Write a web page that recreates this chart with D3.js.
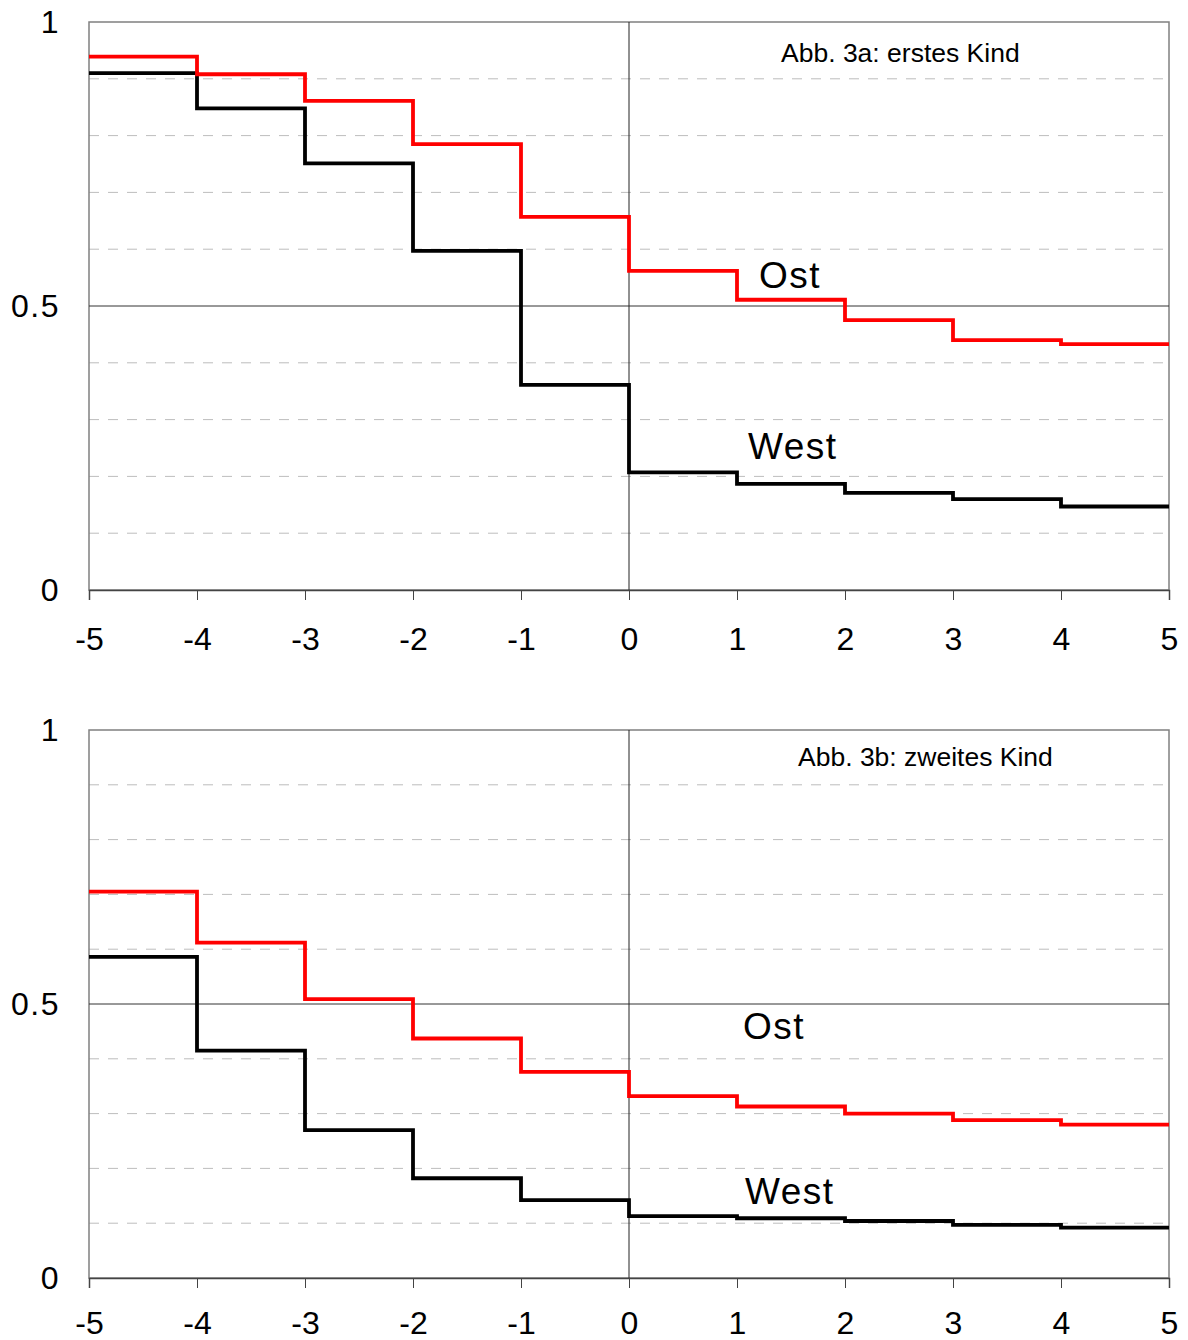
<!DOCTYPE html>
<html>
<head>
<meta charset="utf-8">
<script src="https://cdn.jsdelivr.net/npm/d3@7"></script>
<style>
  html, body { margin: 0; padding: 0; background: #fff; }
  svg { display: block; font-family: "Liberation Sans", Arial, sans-serif; }
</style>
</head>
<body>
<svg id="chart" width="1188" height="1340"></svg>
<script>
// ---- data ----
const xSteps = [-5, -4, -3, -2, -1, 0, 1, 2, 3, 4];
const xTicks = [-5, -4, -3, -2, -1, 0, 1, 2, 3, 4, 5];
const yTicks = [0, 0.5, 1];
const gridValues = [0.1, 0.2, 0.3, 0.4, 0.6, 0.7, 0.8, 0.9];

const ostFirst  = [0.939, 0.908, 0.861, 0.785, 0.657, 0.562, 0.511, 0.475, 0.440, 0.433];
const westFirst = [0.910, 0.848, 0.751, 0.597, 0.361, 0.207, 0.187, 0.171, 0.160, 0.147];
const ostSecond  = [0.705, 0.612, 0.509, 0.437, 0.376, 0.332, 0.313, 0.300, 0.288, 0.280];
const westSecond = [0.586, 0.415, 0.270, 0.182, 0.142, 0.113, 0.109, 0.104, 0.097, 0.092];

const panelTitles = ["Abb. 3a: erstes Kind", "Abb. 3b: zweites Kind"];
const seriesNames = ["Ost", "West"];

// ---- layout ----
const svg = d3.select("#chart");
const panels = [
  { top: 22, bottom: 590, ost: ostFirst, west: westFirst, title: panelTitles[0], labelOffset: 49,
    titlePos: [781, 62], ostPos: [759, 288], westPos: [748, 459] },
  { top: 730, bottom: 1278, ost: ostSecond, west: westSecond, title: panelTitles[1], labelOffset: 45,
    titlePos: [798, 766], ostPos: [743, 1039], westPos: [745, 1204] }
];
const left = 89, right = 1169;

panels.forEach(p => {
  const x = d3.scaleLinear().domain([-5, 5]).range([left, right]);
  const y = d3.scaleLinear().domain([0, 1]).range([p.bottom, p.top]);
  const g = svg.append("g");

  // dashed grid
  g.selectAll("line.grid").data(gridValues).join("line")
    .attr("x1", left).attr("x2", right)
    .attr("y1", d => y(d)).attr("y2", d => y(d))
    .attr("stroke", "#bdbdbd").attr("stroke-width", 1)
    .attr("stroke-dasharray", "10,9");

  // frame
  g.append("rect")
    .attr("x", left).attr("y", p.top)
    .attr("width", right - left).attr("height", p.bottom - p.top)
    .attr("fill", "none").attr("stroke", "#808080").attr("stroke-width", 1.5);

  // reference lines at 0.5 and x=0
  g.append("line")
    .attr("x1", left).attr("x2", right).attr("y1", y(0.5)).attr("y2", y(0.5))
    .attr("stroke", "#333").attr("stroke-width", 1);
  g.append("line")
    .attr("x1", x(0)).attr("x2", x(0)).attr("y1", p.top).attr("y2", p.bottom)
    .attr("stroke", "#222").attr("stroke-width", 1);

  // x axis
  const xAxis = d3.axisBottom(x).tickValues(xTicks).tickSize(10).tickPadding(0)
    .tickFormat(d3.format("d"));
  const ax = g.append("g").attr("transform", `translate(0,${p.bottom})`).call(xAxis);
  ax.select(".domain").attr("stroke", "#444").attr("stroke-width", 1.5);
  ax.selectAll(".tick line").attr("stroke", "#444").attr("stroke-width", 1);
  ax.selectAll(".tick text")
    .attr("y", p.labelOffset).attr("dy", "0.35em")
    .attr("font-size", 32).attr("fill", "#000")
    .attr("font-family", "Liberation Sans, Arial, sans-serif")
    .text(d => d < 0 ? "-" + Math.abs(d) : d);

  // y axis labels
  const yAxis = d3.axisLeft(y).tickValues(yTicks).tickSize(0).tickPadding(29)
    .tickFormat(d => d === 0.5 ? "0.5" : d3.format("d")(d));
  const ay = g.append("g").attr("transform", `translate(${left},0)`).call(yAxis);
  ay.select(".domain").remove();
  ay.selectAll(".tick text")
    .attr("font-size", 32).attr("fill", "#000").attr("letter-spacing", 1.5)
    .attr("font-family", "Liberation Sans, Arial, sans-serif");

  // step lines
  const line = d3.line().x(d => x(d[0])).y(d => y(d[1])).curve(d3.curveStepAfter);
  const pts = vals => xSteps.map((xv, i) => [xv, vals[i]]).concat([[5, vals[vals.length - 1]]]);

  g.append("path").datum(pts(p.west))
    .attr("d", line).attr("fill", "none")
    .attr("stroke", "#000").attr("stroke-width", 3.8);
  g.append("path").datum(pts(p.ost))
    .attr("d", line).attr("fill", "none")
    .attr("stroke", "#ff0000").attr("stroke-width", 3.8);

  // labels
  g.append("text").attr("x", p.titlePos[0]).attr("y", p.titlePos[1])
    .attr("font-size", 26.5).attr("fill", "#000").text(p.title);
  g.append("text").attr("x", p.ostPos[0]).attr("y", p.ostPos[1])
    .attr("font-size", 37).attr("letter-spacing", 1.5).attr("fill", "#000").text(seriesNames[0]);
  g.append("text").attr("x", p.westPos[0]).attr("y", p.westPos[1])
    .attr("font-size", 37).attr("letter-spacing", 1.5).attr("fill", "#000").text(seriesNames[1]);
});
</script>
</body>
</html>
